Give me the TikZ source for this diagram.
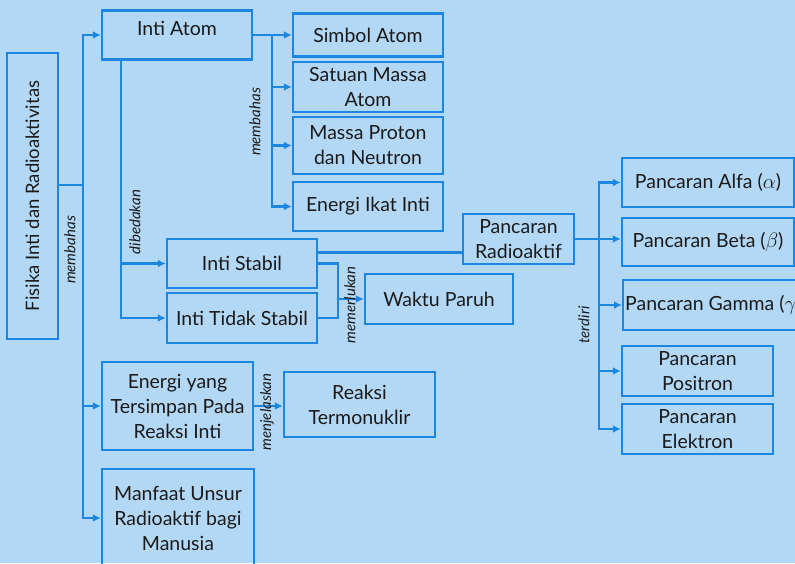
\documentclass[tikz,border=0pt]{standalone}
\usepackage{fontspec}
\setmainfont{Lato}
\usetikzlibrary{positioning,arrows.meta}
\definecolor{bgblue}{HTML}{B3D8F5}
\definecolor{lineblue}{HTML}{1C86E0}
\definecolor{txtgray}{HTML}{1A1A1A}

\begin{document}
\begin{tikzpicture}[x=1pt,y=-1pt,
  box/.style={rectangle,draw=lineblue,line width=2.4pt,align=center,text=txtgray,font=\fontsize{19.5}{25}\selectfont,inner sep=2pt},
  conn/.style={draw=lineblue,line width=2.4pt},
  arr/.style={conn,-{Latex[length=8pt,width=8pt]}},
  lbl/.style={rotate=90,font=\itshape\fontsize{15}{17}\selectfont,text=txtgray,inner sep=1pt}]
\fill[bgblue] (0,0) rectangle (795,563);
\useasboundingbox (0,0) rectangle (795,563);

\node[box,rotate=90,minimum width=286pt,minimum height=51pt,font=\fontsize{18.5}{22}\selectfont] (root) at (32.5,196) {Fisika Inti dan Radioaktivitas};
\node[box,minimum width=150pt,minimum height=49pt,text depth=13pt] (atom) at (177,35) {Inti Atom};
\node[box,minimum width=150pt,minimum height=43pt] (simbol) at (368,35) {Simbol Atom};
\node[box,minimum width=150pt,minimum height=50pt] (satuan) at (368,87) {Satuan Massa\\Atom};
\node[box,minimum width=150pt,minimum height=57pt] (massa) at (368,145.5) {Massa Proton\\dan Neutron};
\node[box,minimum width=150pt,minimum height=49pt] (ikat) at (368,206.5) {Energi Ikat Inti};
\node[box,minimum width=150pt,minimum height=49pt] (stabil) at (242,263.5) {Inti Stabil};
\node[box,minimum width=150pt,minimum height=50pt] (tstabil) at (242,318) {Inti Tidak Stabil};
\node[box,minimum width=148pt,minimum height=50pt] (paruh) at (439,299) {Waktu Paruh};
\node[box,minimum width=111pt,minimum height=50pt] (radio) at (518.5,239) {Pancaran\\Radioaktif};
\node[box,minimum width=172pt,minimum height=49pt] (alfa) at (708,182.5) {Pancaran Alfa ($\alpha$)};
\node[box,minimum width=172pt,minimum height=48pt] (beta) at (708,242) {Pancaran Beta ($\beta$)};
\node[box,anchor=west,minimum height=50pt] (gamma) at (622,305) {Pancaran Gamma ($\gamma$)};
\node[box,minimum width=151pt,minimum height=50pt] (positron) at (697.5,371) {Pancaran\\Positron};
\node[box,minimum width=151pt,minimum height=50pt] (elektron) at (697.5,429) {Pancaran\\Elektron};
\node[box,minimum width=151pt,minimum height=88pt] (energi) at (177.5,406) {Energi yang\\Tersimpan Pada\\Reaksi Inti};
\node[box,minimum width=151pt,minimum height=65pt] (reaksi) at (359.5,404.5) {Reaksi\\Termonuklir};
\node[box,minimum width=152pt,minimum height=98pt] (manfaat) at (178,518) {Manfaat Unsur\\Radioaktif bagi\\Manusia};

\coordinate (t0) at (83,185);
\coordinate (t1) at (272,35);
\coordinate (t2) at ([xshift=20pt]atom.south west);
\coordinate (t3) at (338,299);
\coordinate (t4) at (599,239);

\draw[conn] (root.south |- t0) -- (t0);
\draw[arr] (t0) |- (atom);
\draw[arr] (t0) |- (manfaat);
\draw[arr] (t0 |- energi) -- (energi);

\draw[arr] (atom) -- (simbol);
\draw[arr] (t1) |- (satuan);
\draw[arr] (t1) |- (massa);
\draw[arr] (t1) |- (ikat);

\draw[arr] (t2) |- (stabil);
\draw[arr] (t2) |- (tstabil);

\draw[conn] ([yshift=11pt]stabil.east) -- ([yshift=11pt]stabil.east -| radio.west);
\draw[conn] (stabil.east) -| (t3) |- (tstabil.east);
\draw[arr] (t3) -- (paruh);

\draw[arr] (radio) -- (radio -| beta.west);
\draw[arr] (t4) |- (alfa);
\draw[arr] (t4) |- (gamma);
\draw[arr] (t4) |- (positron);
\draw[arr] (t4) |- (elektron);

\draw[arr] (energi) -- (energi -| reaksi.west);

\node[lbl] (l1) at (70,250) {membahas};
\node[lbl] (l2) at (255,122) {membahas};
\node[lbl] (l3) at (135,222) {dibedakan};
\node[lbl] (l4) at (350,305) {memerlukan};
\node[lbl] (l5) at (584,325) {terdiri};
\node[lbl] (l6) at (267,412) {menjelaskan};
\end{tikzpicture}
\end{document}
